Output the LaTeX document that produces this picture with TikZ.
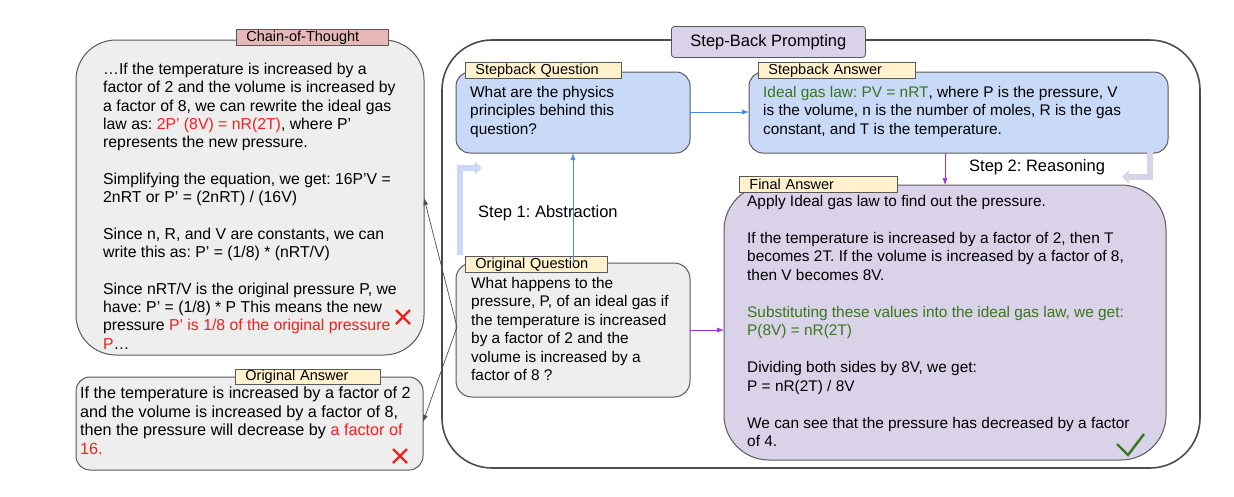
\documentclass[tikz,border=0pt]{standalone}
\usepackage{fontspec}
\setmainfont{Liberation Sans}
\usetikzlibrary{arrows.meta}
\definecolor{boxgray}{HTML}{EEEEEE}
\definecolor{sbblue}{HTML}{C9DAF8}
\definecolor{sbpurple}{HTML}{D9D2E9}
\definecolor{tagyellow}{HTML}{FFF2CC}
\definecolor{tagpink}{HTML}{E6B8B7}
\definecolor{myred}{HTML}{F21F1F}
\definecolor{mygreen}{HTML}{38761D}
\definecolor{myblue}{HTML}{4A86E8}
\definecolor{mypurple}{HTML}{9B30F0}
\definecolor{lightblue}{HTML}{C9DAF8}
\definecolor{lightpurple}{HTML}{D9D2E9}
\hyphenpenalty=10000
\exhyphenpenalty=10000
\begin{document}
\frenchspacing
\begin{tikzpicture}[x=1pt,y=-1pt,
  box/.style={draw=gray!70!black,line width=1pt},
  txt/.style={anchor=north west,inner sep=0pt,align=left,font=\fontsize{15.4}{18.5}\selectfont},
  tag/.style={draw=gray!70!black,fill=tagyellow,line width=0.8pt,anchor=north west,inner ysep=0pt,inner xsep=10pt,font=\fontsize{14.5}{15}\selectfont,align=left},
  conn/.style={-{Latex[length=7pt,width=5pt]},line width=0.7pt}]
\useasboundingbox (0,0) rectangle (1234,496);
% outer
\draw[line width=1.6pt,draw=black!70,rounded corners=50pt] (442,40) rectangle (1200,468);
\node[draw=gray!70!black,fill=sbpurple,rounded corners=3pt,minimum width=194pt,minimum height=31pt,inner sep=0pt,font=\fontsize{16.5}{17}\selectfont,anchor=north west,line width=0.8pt] (title) at (671,26) {Step-Back Prompting};
% CoT
\draw[box,fill=boxgray,rounded corners=40pt] (76,40) rectangle (424,355);
\node[tag,fill=tagpink,text width=132pt,minimum height=16pt] (cottag) at (236,29) {Chain-of-Thought};
\node[txt,font=\fontsize{15.8}{18.3}\selectfont] (cot) at (103,63) {\dots If the temperature is increased by a\\ factor of 2 and the volume is increased by\\ a factor of 8, we can rewrite the ideal gas\\ law as: \textcolor{myred}{2P' (8V) = nR(2T)}, where P'\\ represents the new pressure.\\[18.3pt]
Simplifying the equation, we get: 16P'V =\\ 2nRT or P' = (2nRT) / (16V)\\[18.3pt]
Since n, R, and V are constants, we can\\ write this as: P' = (1/8) * (nRT/V)\\[18.3pt]
Since nRT/V is the original pressure P, we\\ have: P' = (1/8) * P This means the new\\ pressure \textcolor{myred}{P' is 1/8 of the original pressure}\\ \textcolor{myred}{P}\dots};
\coordinate (cotR) at (424,198);
% Original answer
\draw[box,fill=boxgray,rounded corners=14pt] (76,377) rectangle (423,470);
\node[tag,text width=125pt,minimum height=15pt] (oatag) at (235,369) {Original Answer};
\node[txt,font=\fontsize{16.2}{18.5}\selectfont] (oa) at (80,387) {If the temperature is increased by a factor of 2\\ and the volume is increased by a factor of 8,\\ then the pressure will decrease by \textcolor{myred}{a factor of}\\ \textcolor{myred}{16.}};
\coordinate (oaR) at (423,422);
% X marks
\foreach \cx/\cy in {403/317, 400/456}{
  \draw[myred,line width=2.4pt] (\cx-7,\cy-7) -- (\cx+7,\cy+7) (\cx-7,\cy+7) -- (\cx+7,\cy-7);
}
% Stepback Question
\draw[box,fill=sbblue,rounded corners=14pt] (456,72) rectangle (690,153);
\node[tag,text width=136pt,minimum height=16pt] (sqtag) at (465,62) {Stepback Question};
\node[txt] (sq) at (470,86) {What are the physics\\ principles behind this\\ question?};
% Stepback Answer
\draw[box,fill=sbblue,rounded corners=14pt] (749,72) rectangle (1168,153);
\node[tag,text width=137pt,minimum height=16pt] (satag) at (758,62) {Stepback Answer};
\node[txt] (sa) at (763,86) {\textcolor{mygreen}{Ideal gas law: PV = nRT}, where P is the pressure, V\\ is the volume, n is the number of moles, R is the gas\\ constant, and T is the temperature.};
% Original Question
\draw[box,fill=boxgray,rounded corners=16pt] (456,263) rectangle (690,397);
\node[tag,text width=122pt,minimum height=16pt] (oqtag) at (465,256) {Original Question};
\node[txt] (oq) at (471,277) {What happens to the\\ pressure, P, of an ideal gas if\\ the temperature is increased\\ by a factor of 2 and the\\ volume is increased by a\\ factor of 8 ?};
% Final answer
\draw[box,fill=sbpurple,rounded corners=45pt] (724,185) rectangle (1166,460);
\node[tag,text width=138pt,minimum height=16pt] (fatag) at (739,176) {Final Answer};
\node[txt] (fa) at (747,195) {Apply Ideal gas law to find out the pressure.\\[18.5pt]
If the temperature is increased by a factor of 2, then T\\ becomes 2T. If the volume is increased by a factor of 8,\\ then V becomes 8V.\\[18.5pt]
\textcolor{mygreen}{Substituting these values into the ideal gas law, we get:}\\ \textcolor{mygreen}{P(8V) = nR(2T)}\\[18.5pt]
Dividing both sides by 8V, we get:\\ P = nR(2T) / 8V\\[18.5pt]
We can see that the pressure has decreased by a factor\\ of 4.};
\draw[mygreen,line width=2.4pt] (1117,444) -- (1128,455) -- (1144,434);
% connectors
\coordinate (oqTop) at (573,263); \coordinate (sqBot) at (573,153);
\draw[conn,myblue] (oqTop) -- (sqBot);
\coordinate (sqR) at (690,112); \coordinate (saL) at (749,112);
\draw[conn,myblue] (sqR) -- (saL);
\coordinate (saB) at (945,153); \coordinate (faT) at (945,185);
\draw[conn,mypurple] (saB) -- (faT);
\coordinate (oqR) at (690,330); \coordinate (faL) at (724,330);
\draw[conn,mypurple] (oqR) -- (faL);
\coordinate (oqL) at (457,327);
\draw[conn,gray!60!black] (oqL) -- (cotR);
\draw[conn,gray!60!black] (oqL) -- (oaR);
% step labels
\node[anchor=west,inner sep=0pt,font=\fontsize{16.5}{17}\selectfont] (s1) at (478,213) {Step 1: Abstraction};
\node[anchor=west,inner sep=0pt,font=\fontsize{16.5}{17}\selectfont] (s2) at (969,167) {Step 2: Reasoning};
\draw[lightblue,line width=6pt,-{Triangle[length=7pt,width=13pt]}] (460,255) -- (460,168) -- (482,168);
\draw[lightpurple,line width=6pt,-{Triangle[length=7pt,width=13pt]}] (1150,152) -- (1150,177) -- (1122,177);
\end{tikzpicture}
\end{document}
